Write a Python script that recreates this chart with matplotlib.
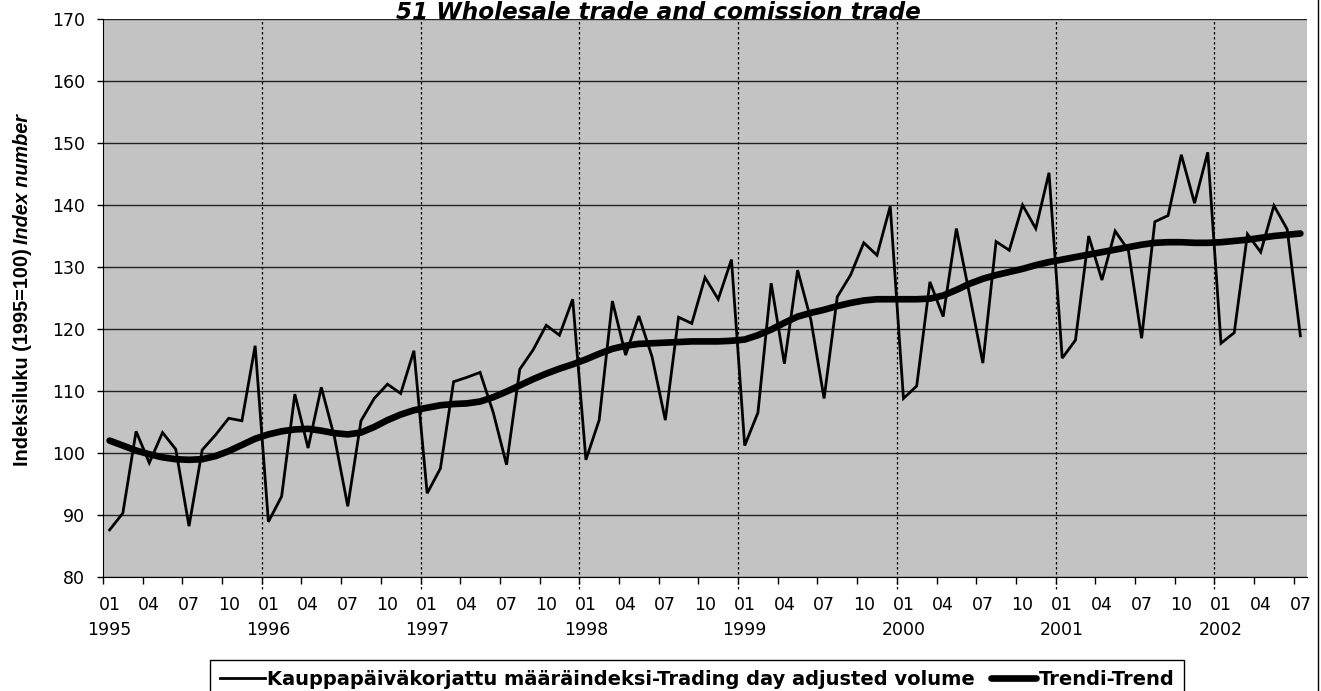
import matplotlib
matplotlib.use("Agg")
import matplotlib.pyplot as plt
from matplotlib.lines import Line2D
import numpy as np

plt.rcParams['font.family'] = ['DejaVu Sans']

title = "51 Wholesale trade and comission trade"
ylabel_main = "Indeksiluku (1995=100)"
ylabel_italic = "Index number"
legend_labels = ["Kauppapäiväkorjattu määräindeksi-Trading day adjusted volume", "Trendi-Trend"]

years = [1995, 1996, 1997, 1998, 1999, 2000, 2001, 2002]
month_labels = ["01", "04", "07", "10"]

volume = [
    87.6, 90.3, 103.5, 98.4, 103.3, 100.6, 88.2, 100.5, 102.9, 105.6, 105.2, 117.3,
    88.9, 93.0, 109.5, 100.8, 110.6, 102.5, 91.4, 105.2, 108.8, 111.1, 109.6, 116.5,
    93.5, 97.5, 111.5, 112.2, 113.0, 106.5, 98.1, 113.5, 116.6, 120.6, 119.0, 124.8,
    98.9, 105.3, 124.5, 115.8, 122.1, 115.5, 105.3, 121.9, 120.9, 128.3, 124.8, 131.2,
    101.2, 106.5, 127.4, 114.4, 129.5, 121.5, 108.8, 125.2, 128.7, 133.9, 131.9, 139.8,
    108.8, 110.8, 127.6, 122.0, 136.2, 125.5, 114.5, 134.1, 132.7, 140.0, 136.2, 145.2,
    115.3, 118.2, 135.0, 127.9, 135.8, 132.7, 118.5, 137.3, 138.3, 148.1, 140.3, 148.5,
    117.7, 119.4, 135.3, 132.4, 139.9, 136.1, 118.9,
]

trend = [
    102.0, 101.2, 100.4, 99.8, 99.3, 99.0, 98.9, 99.0, 99.5, 100.3, 101.3, 102.3,
    103.0, 103.5, 103.8, 103.9, 103.6, 103.2, 103.0, 103.3, 104.2, 105.3, 106.2, 106.9,
    107.3, 107.7, 107.9, 108.0, 108.3, 109.0, 109.9, 110.9, 111.9, 112.8, 113.6, 114.3,
    115.1, 116.0, 116.8, 117.3, 117.6, 117.7, 117.8, 117.9, 118.0, 118.0, 118.0, 118.1,
    118.3, 119.0, 119.9, 121.0, 122.0, 122.6, 123.1, 123.7, 124.2, 124.6, 124.8, 124.8,
    124.8, 124.8, 124.9, 125.4, 126.3, 127.3, 128.1, 128.7, 129.2, 129.7, 130.3, 130.8,
    131.2, 131.6, 132.0, 132.4, 132.8, 133.2, 133.6, 133.9, 134.0, 134.0, 133.9, 133.9,
    134.0, 134.2, 134.4, 134.7, 135.0, 135.2, 135.4,
]

n = len(volume)
x = np.arange(n)

W, H = 1321, 691
fig = plt.figure(figsize=(W / 100, H / 100), dpi=100)
fig.patch.set_facecolor('white')
ax = fig.add_axes([103 / W, 1 - 577 / H, (1307 - 103) / W, (577 - 19) / H])
ax.set_facecolor('#c3c3c3')

ax.set_xlim(-0.5, n - 0.5)
ax.set_ylim(80, 170)
ax.set_yticks(np.arange(80, 171, 10))
ax.yaxis.grid(True, color='#222222', linewidth=1.0)
ax.set_axisbelow(True)
ax.tick_params(axis='y', direction='out', length=4, width=1, labelsize=12.5, pad=9)

# year boundary dashed lines (reaching a little below the axis)
for k in range(1, len(years)):
    ax.axvline(12 * k - 0.5, ymin=-0.022, ymax=1, color='black', linewidth=0.9,
               linestyle=(0, (2, 2)), zorder=1, clip_on=False)

# tick marks at every 3 months boundary
ax.set_xticks(np.arange(-0.5, n - 0.5, 3))
ax.set_xticklabels([])
ax.tick_params(axis='x', which='major', direction='out', length=5, width=1)

# labels at categories
lab_pos = np.arange(0, n, 3)
labs = []
for p in lab_pos:
    m = month_labels[(p % 12) // 3]
    if p % 12 == 0:
        labs.append(m + "\n" + str(years[p // 12]))
    else:
        labs.append(m)
ax.set_xticks(lab_pos, minor=True)
ax.set_xticklabels(labs, minor=True, fontsize=12.5, linespacing=1.5)
ax.tick_params(axis='x', which='minor', length=0, pad=14)

for s in ['top', 'right']:
    ax.spines[s].set_visible(False)
ax.spines['left'].set_color('black')
ax.spines['bottom'].set_color('black')

l1, = ax.plot(x, volume, color='black', linewidth=2.0, zorder=3, solid_joinstyle='miter')
l2, = ax.plot(x, trend, color='black', linewidth=4.8, zorder=4, solid_capstyle='round')

fig.canvas.draw()
r = fig.canvas.get_renderer()

# title, sized to the reference width
tt = fig.text(658 / W, 1 - 19 / H, title, ha='center', va='baseline', fontsize=15,
              fontweight='bold', fontstyle='italic')
w0 = tt.get_window_extent(r).width
tt.set_fontsize(15 * 528 / w0)

# y label: two styles
ylab_fs = 14.3
t1 = fig.text(0, 0, ylabel_main, fontsize=ylab_fs, fontweight='bold', rotation=90,
              rotation_mode='anchor', ha='left', va='center', family='Liberation Sans')
t2 = fig.text(0, 0, ylabel_italic, fontsize=ylab_fs, fontweight='bold', fontstyle='italic',
              rotation=90, rotation_mode='anchor', ha='left', va='center', family='Liberation Sans')
e1 = t1.get_window_extent(r)
e2 = t2.get_window_extent(r)
gap = 5
L = e1.height + gap + e2.height
ycen = H - 290
y0 = ycen - L / 2
xc = 23
t1.set_position((xc / W, y0 / H))
t2.set_position((xc / W, (y0 + e1.height + gap) / H))

# legend, text sized to the reference width
probe = fig.text(0, 0, legend_labels[0], fontsize=14, fontweight='bold')
pw = probe.get_window_extent(r).width
probe.remove()
leg_fs = 14 * 710 / pw
leg = fig.legend([l1, l2], legend_labels, loc='upper center',
                 bbox_to_anchor=(697 / W, 1 - 660 / H), ncol=2, frameon=True,
                 fancybox=False, edgecolor='black', facecolor='white', framealpha=1,
                 prop={'weight': 'bold', 'size': leg_fs}, handlelength=2.3, handletextpad=0.15,
                 columnspacing=0.8, borderpad=0.5, borderaxespad=0)
leg.get_frame().set_linewidth(1.0)

# right frame line of the chart area
fig.add_artist(Line2D([1318 / W, 1318 / W], [0, 1], color='black', linewidth=1.0,
                      transform=fig.transFigure))

fig.savefig('out.png', dpi=100)
